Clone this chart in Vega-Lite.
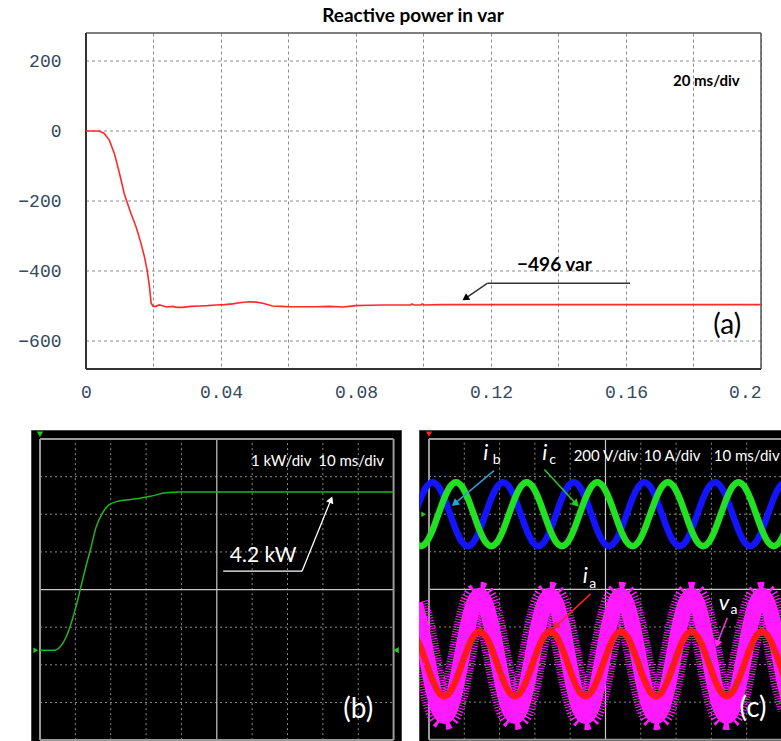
{
  "$schema": "https://vega.github.io/schema/vega-lite/v6.json",
  "padding": {"left": 17, "top": 7, "right": 0, "bottom": 0},
  "background": "white",
  "config": {"view": {"stroke": null}},
  "spacing": 21,
  "vconcat": [
    {
      "width": 730,
      "height": 336,
      "title": {"text": "Reactive power in var", "font": "Lato", "fontSize": 19, "fontWeight": "bold", "color": "#000000", "dx": 17, "offset": 6},
      "encoding": {
        "x": {
          "field": "t", "type": "quantitative",
          "scale": {"domain": [-0.016296, 0.2], "nice": false, "zero": false},
          "axis": {
            "title": null,
            "values": [0, 0.02, 0.04, 0.06, 0.08, 0.1, 0.12, 0.14, 0.16, 0.18, 0.2],
            "format": "~g",
            "labelExpr": "(abs(round(datum.value*100)) % 4 == 0) ? datum.label : ''",
            "grid": true, "gridDash": [3, 3], "gridColor": "#8c8c8c", "gridWidth": 1,
            "ticks": false, "tickSize": 0, "domain": false,
            "labelFont": "Liberation Mono", "labelFontSize": 18, "labelColor": "#34495e",
            "labelPadding": 14, "labelBaseline": "top", "labelFlush": false,
            "labelAlign": {"condition": {"test": "datum.value > 0.19", "value": "right"}, "value": "center"},
            "minExtent": 39, "maxExtent": 39
          }
        },
        "y": {
          "field": "q", "type": "quantitative",
          "scale": {"domain": [-680, 280], "nice": false, "zero": false},
          "axis": {
            "title": null,
            "values": [-600, -400, -200, 0, 200],
            "offset": -55,
            "grid": false, "ticks": false, "tickSize": 0, "domain": false,
            "labelFont": "Liberation Mono", "labelFontSize": 18, "labelColor": "#34495e",
            "labelPadding": 25, "labelBaseline": "middle"
          }
        }
      },
      "layer": [
        {
          "data": {"values": [
            {"t": 0, "t2": 0.2, "q": -600, "q2": -600},
            {"t": 0, "t2": 0.2, "q": -400, "q2": -400},
            {"t": 0, "t2": 0.2, "q": -200, "q2": -200},
            {"t": 0, "t2": 0.2, "q": 0, "q2": 0},
            {"t": 0, "t2": 0.2, "q": 200, "q2": 200}
          ]},
          "mark": {"type": "rule", "color": "#8c8c8c", "strokeWidth": 1, "strokeDash": [3, 3]},
          "encoding": {"x2": {"field": "t2"}, "y2": {"field": "q2"}}
        },
        {
          "data": {"values": [
            {"t": 0, "t2": 0.2, "q": 280, "q2": 280},
            {"t": 0.2, "t2": 0.2, "q": -680, "q2": 280}
          ]},
          "mark": {"type": "rule", "color": "#555555", "strokeWidth": 1.5},
          "encoding": {"x2": {"field": "t2"}, "y2": {"field": "q2"}}
        },
        {
          "data": {"values": [
            {"t": 0, "t2": 0, "q": -680, "q2": 280},
            {"t": 0, "t2": 0.2, "q": -680, "q2": -680}
          ]},
          "mark": {"type": "rule", "color": "#333333", "strokeWidth": 2},
          "encoding": {"x2": {"field": "t2"}, "y2": {"field": "q2"}}
        },
        {
          "data": {"values": [
            {"t": 0, "q": 0}, {"t": 0.002, "q": 0}, {"t": 0.0039, "q": 0}, {"t": 0.0054, "q": -7},
            {"t": 0.0069, "q": -26}, {"t": 0.0084, "q": -64}, {"t": 0.0099, "q": -120}, {"t": 0.0113, "q": -178},
            {"t": 0.0123, "q": -207}, {"t": 0.0133, "q": -235}, {"t": 0.0148, "q": -273}, {"t": 0.0163, "q": -321},
            {"t": 0.0173, "q": -359}, {"t": 0.0181, "q": -397}, {"t": 0.0188, "q": -444}, {"t": 0.0193, "q": -492},
            {"t": 0.0199, "q": -501}, {"t": 0.0207, "q": -501}, {"t": 0.0217, "q": -497}, {"t": 0.0227, "q": -499},
            {"t": 0.024, "q": -503}, {"t": 0.0257, "q": -501}, {"t": 0.027, "q": -504}, {"t": 0.0286, "q": -504},
            {"t": 0.031, "q": -501}, {"t": 0.0336, "q": -500}, {"t": 0.036, "q": -499}, {"t": 0.0385, "q": -497},
            {"t": 0.041, "q": -496}, {"t": 0.0434, "q": -494}, {"t": 0.046, "q": -490}, {"t": 0.0484, "q": -488},
            {"t": 0.0505, "q": -489}, {"t": 0.0524, "q": -492}, {"t": 0.0553, "q": -500}, {"t": 0.058, "q": -501},
            {"t": 0.0602, "q": -502}, {"t": 0.065, "q": -502}, {"t": 0.0681, "q": -502}, {"t": 0.072, "q": -501},
            {"t": 0.076, "q": -503}, {"t": 0.078, "q": -501}, {"t": 0.08, "q": -499}, {"t": 0.084, "q": -498},
            {"t": 0.0879, "q": -497}, {"t": 0.092, "q": -497}, {"t": 0.0962, "q": -497}, {"t": 0.0966, "q": -494},
            {"t": 0.0972, "q": -497}, {"t": 0.0992, "q": -497}, {"t": 0.0996, "q": -494}, {"t": 0.1, "q": -497},
            {"t": 0.105, "q": -496}, {"t": 0.2, "q": -496}
          ]},
          "mark": {"type": "line", "color": "#ff2a2a", "strokeWidth": 1.6}
        },
        {
          "data": {"values": [{"t": 0.1838, "q": 144, "label": "20 ms/div"}]},
          "mark": {"type": "text", "font": "Lato", "fontSize": 15, "fontWeight": "bold", "color": "#000000", "align": "center", "baseline": "middle"},
          "encoding": {"text": {"field": "label"}}
        },
        {
          "data": {"values": [{"t": 0.1388, "q": -382.6, "label": "−496 var"}]},
          "mark": {"type": "text", "font": "Lato", "fontSize": 19, "fontWeight": "bold", "color": "#000000", "align": "center", "baseline": "middle"},
          "encoding": {"text": {"field": "label"}}
        },
        {
          "data": {"values": [
            {"t": 0.119, "q": -434.8, "t2": 0.1612, "q2": -434.8},
            {"t": 0.119, "q": -434.8, "t2": 0.1124, "q2": -478}
          ]},
          "mark": {"type": "rule", "color": "#333333", "strokeWidth": 1.5},
          "encoding": {"x2": {"field": "t2"}, "y2": {"field": "q2"}}
        },
        {
          "data": {"values": [{"t": 0.1124, "q": -478}]},
          "mark": {"type": "point", "shape": "triangle-up", "filled": true, "color": "#000000", "opacity": 1, "size": 60, "angle": 236}
        },
        {
          "data": {"values": [{"t": 0.19, "q": -558, "label": "(a)"}]},
          "mark": {"type": "text", "font": "Lato", "fontSize": 28, "color": "#000000", "align": "center", "baseline": "middle"},
          "encoding": {"text": {"field": "label"}}
        }
      ]
    },
    {
      "spacing": 16,
      "hconcat": [
        {
          "width": 370,
          "height": 312,
          "view": {"fill": "#000000", "stroke": "#444444"},
          "encoding": {
            "x": {"field": "x", "type": "quantitative", "scale": {"domain": [-2.55, 102.1], "nice": false, "zero": false}, "axis": null},
            "y": {"field": "y", "type": "quantitative", "scale": {"domain": [-2.44, 5.85], "nice": false, "zero": false}, "axis": null}
          },
          "layer": [
            {
              "data": {"values": [
                {"x": 10, "x2": 10, "y": -2.39, "y2": 5.61}, {"x": 20, "x2": 20, "y": -2.39, "y2": 5.61},
                {"x": 30, "x2": 30, "y": -2.39, "y2": 5.61}, {"x": 40, "x2": 40, "y": -2.39, "y2": 5.61},
                {"x": 60, "x2": 60, "y": -2.39, "y2": 5.61}, {"x": 70, "x2": 70, "y": -2.39, "y2": 5.61},
                {"x": 80, "x2": 80, "y": -2.39, "y2": 5.61}, {"x": 90, "x2": 90, "y": -2.39, "y2": 5.61},
                {"x": 0, "x2": 100, "y": -1.39, "y2": -1.39}, {"x": 0, "x2": 100, "y": -0.39, "y2": -0.39},
                {"x": 0, "x2": 100, "y": 0.61, "y2": 0.61}, {"x": 0, "x2": 100, "y": 2.61, "y2": 2.61},
                {"x": 0, "x2": 100, "y": 3.61, "y2": 3.61}, {"x": 0, "x2": 100, "y": 4.61, "y2": 4.61}
              ]},
              "mark": {"type": "rule", "color": "#8a8a8a", "strokeWidth": 1, "strokeDash": [2, 3]},
              "encoding": {"x2": {"field": "x2"}, "y2": {"field": "y2"}}
            },
            {
              "data": {"values": [
                {"x": 50, "x2": 50, "y": -2.39, "y2": 5.61},
                {"x": 0, "x2": 100, "y": 1.61, "y2": 1.61}
              ]},
              "mark": {"type": "rule", "color": "#c8c8c8", "strokeWidth": 1.2},
              "encoding": {"x2": {"field": "x2"}, "y2": {"field": "y2"}}
            },
            {
              "data": {"values": [
                {"x": 0, "x2": 0, "y": -2.39, "y2": 5.61},
                {"x": 100, "x2": 100, "y": -2.39, "y2": 5.61},
                {"x": 0, "x2": 100, "y": 5.61, "y2": 5.61},
                {"x": 0, "x2": 100, "y": -2.39, "y2": -2.39}
              ]},
              "mark": {"type": "rule", "color": "#9a9a9a", "strokeWidth": 2},
              "encoding": {"x2": {"field": "x2"}, "y2": {"field": "y2"}}
            },
            {
              "data": {"values": [
                {"x": 0, "y": 0}, {"x": 4.0, "y": 0}, {"x": 5.9, "y": 0.11}, {"x": 7.3, "y": 0.33},
                {"x": 8.7, "y": 0.68}, {"x": 10.1, "y": 1.13}, {"x": 11.5, "y": 1.66}, {"x": 12.9, "y": 2.19},
                {"x": 14.4, "y": 2.72}, {"x": 15.8, "y": 3.25}, {"x": 17.7, "y": 3.65}, {"x": 19.5, "y": 3.86},
                {"x": 21.4, "y": 3.94}, {"x": 24.3, "y": 3.99}, {"x": 28.0, "y": 4.03}, {"x": 31.8, "y": 4.10},
                {"x": 35.6, "y": 4.18}, {"x": 39.4, "y": 4.2}, {"x": 100, "y": 4.2}
              ]},
              "mark": {"type": "line", "color": "#22b522", "strokeWidth": 1.5, "interpolate": "monotone"}
            },
            {
              "data": {"values": [
                {"x": 68.2, "y": 5.03, "label": "1 kW/div"},
                {"x": 88.0, "y": 5.03, "label": "10 ms/div"}
              ]},
              "mark": {"type": "text", "font": "Lato", "fontSize": 15, "color": "#ffffff", "align": "center", "baseline": "middle"},
              "encoding": {"text": {"field": "label"}}
            },
            {
              "data": {"values": [{"x": 63.1, "y": 2.5, "label": "4.2 kW"}]},
              "mark": {"type": "text", "font": "Lato", "fontSize": 21, "color": "#ffffff", "align": "center", "baseline": "middle"},
              "encoding": {"text": {"field": "label"}}
            },
            {
              "data": {"values": [
                {"x": 51.8, "x2": 74.1, "y": 2.1, "y2": 2.1},
                {"x": 74.1, "x2": 82.3, "y": 2.1, "y2": 4.0}
              ]},
              "mark": {"type": "rule", "color": "#ffffff", "strokeWidth": 1.3},
              "encoding": {"x2": {"field": "x2"}, "y2": {"field": "y2"}}
            },
            {
              "data": {"values": [{"x": 82.3, "y": 4.0}]},
              "mark": {"type": "point", "shape": "triangle-up", "filled": true, "color": "#ffffff", "opacity": 1, "size": 60, "angle": 22}
            },
            {
              "data": {"values": [{"x": 90.0, "y": -1.58, "label": "(b)"}]},
              "mark": {"type": "text", "font": "Lato", "fontSize": 28, "color": "#ffffff", "align": "center", "baseline": "middle"},
              "encoding": {"text": {"field": "label"}}
            },
            {
              "data": {"values": [{"x": 0, "y": 5.74}]},
              "mark": {"type": "point", "shape": "triangle-down", "filled": true, "color": "#22cc22", "opacity": 1, "size": 40}
            },
            {
              "data": {"values": [{"x": -1.2, "y": 0}]},
              "mark": {"type": "point", "shape": "triangle-right", "filled": true, "color": "#22cc22", "opacity": 1, "size": 30}
            },
            {
              "data": {"values": [{"x": 100.7, "y": 0}]},
              "mark": {"type": "point", "shape": "triangle-left", "filled": true, "color": "#22cc22", "opacity": 1, "size": 40}
            }
          ]
        },
        {
          "width": 363,
          "height": 312,
          "view": {"fill": "#000000", "stroke": "#444444"},
          "encoding": {
            "x": {"field": "t", "type": "quantitative", "scale": {"domain": [-2.83, 100], "nice": false, "zero": false}, "axis": null},
            "y": {"field": "y", "type": "quantitative", "scale": {"domain": [-4.06, 4.24], "nice": false, "zero": false}, "axis": null}
          },
          "layer": [
            {
              "data": {"values": [
                {"t": 10, "t2": 10, "y": -4, "y2": 4}, {"t": 20, "t2": 20, "y": -4, "y2": 4},
                {"t": 30, "t2": 30, "y": -4, "y2": 4}, {"t": 40, "t2": 40, "y": -4, "y2": 4},
                {"t": 60, "t2": 60, "y": -4, "y2": 4}, {"t": 70, "t2": 70, "y": -4, "y2": 4},
                {"t": 80, "t2": 80, "y": -4, "y2": 4}, {"t": 90, "t2": 90, "y": -4, "y2": 4},
                {"t": 0, "t2": 100, "y": -3, "y2": -3}, {"t": 0, "t2": 100, "y": -2, "y2": -2},
                {"t": 0, "t2": 100, "y": -1, "y2": -1}, {"t": 0, "t2": 100, "y": 1, "y2": 1},
                {"t": 0, "t2": 100, "y": 2, "y2": 2}, {"t": 0, "t2": 100, "y": 3, "y2": 3}
              ]},
              "mark": {"type": "rule", "color": "#8a8a8a", "strokeWidth": 1, "strokeDash": [2, 3]},
              "encoding": {"x2": {"field": "t2"}, "y2": {"field": "y2"}}
            },
            {
              "data": {"values": [
                {"t": 50, "t2": 50, "y": -4, "y2": 4},
                {"t": 0, "t2": 100, "y": 0, "y2": 0}
              ]},
              "mark": {"type": "rule", "color": "#c8c8c8", "strokeWidth": 1.2},
              "encoding": {"x2": {"field": "t2"}, "y2": {"field": "y2"}}
            },
            {
              "data": {"values": [
                {"t": 0, "t2": 0, "y": -4, "y2": 4},
                {"t": 0, "t2": 100, "y": 4, "y2": 4},
                {"t": 0, "t2": 100, "y": -4, "y2": -4}
              ]},
              "mark": {"type": "rule", "color": "#9a9a9a", "strokeWidth": 2},
              "encoding": {"x2": {"field": "t2"}, "y2": {"field": "y2"}}
            },
            {
              "data": {"name": "waves"},
              "mark": {"type": "line", "color": "#1414ff", "strokeWidth": 6.5, "interpolate": "monotone", "clip": true},
              "encoding": {"y": {"field": "ib", "type": "quantitative"}}
            },
            {
              "data": {"name": "waves"},
              "mark": {"type": "line", "color": "#22e022", "strokeWidth": 6.5, "interpolate": "monotone", "clip": true},
              "encoding": {"y": {"field": "ic", "type": "quantitative"}}
            },
            {
              "data": {"name": "waves"},
              "mark": {"type": "line", "color": "#ff1aff", "strokeWidth": 28, "strokeDash": [1, 1.5], "interpolate": "monotone", "clip": true},
              "encoding": {"y": {"field": "va", "type": "quantitative"}}
            },
            {
              "data": {"name": "waves"},
              "mark": {"type": "line", "color": "#ff1aff", "strokeWidth": 16, "interpolate": "monotone", "clip": true},
              "encoding": {"y": {"field": "va", "type": "quantitative"}}
            },
            {
              "data": {"name": "waves"},
              "mark": {"type": "line", "color": "#ff1a1a", "strokeWidth": 6.5, "interpolate": "monotone", "clip": true},
              "encoding": {"y": {"field": "ia", "type": "quantitative"}}
            },
            {
              "data": {"values": [
                {"t": 50.1, "y": 3.56, "label": "200 V/div"},
                {"t": 68.9, "y": 3.56, "label": "10 A/div"},
                {"t": 90.0, "y": 3.56, "label": "10 ms/div"}
              ]},
              "mark": {"type": "text", "font": "Lato", "fontSize": 15, "color": "#ffffff", "align": "center", "baseline": "middle"},
              "encoding": {"text": {"field": "label"}}
            },
            {
              "data": {"values": [
                {"t": 16.1, "y": 3.63, "label": "i"},
                {"t": 32.8, "y": 3.63, "label": "i"},
                {"t": 44.3, "y": 0.35, "label": "i"},
                {"t": 83.6, "y": -0.36, "label": "v"}
              ]},
              "mark": {"type": "text", "font": "Lato", "fontSize": 22, "fontStyle": "italic", "color": "#ffffff", "align": "center", "baseline": "middle"},
              "encoding": {"text": {"field": "label"}}
            },
            {
              "data": {"values": [
                {"t": 19.2, "y": 3.45, "label": "b"},
                {"t": 35.0, "y": 3.45, "label": "c"},
                {"t": 46.4, "y": 0.13, "label": "a"},
                {"t": 86.4, "y": -0.55, "label": "a"}
              ]},
              "mark": {"type": "text", "font": "Lato", "fontSize": 14, "color": "#ffffff", "align": "center", "baseline": "middle"},
              "encoding": {"text": {"field": "label"}}
            },
            {
              "data": {"values": [{"t": 18.4, "t2": 7.28, "y": 3.16, "y2": 2.28}]},
              "mark": {"type": "rule", "color": "#2aa0d8", "strokeWidth": 1.5},
              "encoding": {"x2": {"field": "t2"}, "y2": {"field": "y2"}}
            },
            {
              "data": {"values": [{"t": 7.28, "y": 2.28}]},
              "mark": {"type": "point", "shape": "triangle-up", "filled": true, "color": "#2aa0d8", "opacity": 1, "size": 70, "angle": 230}
            },
            {
              "data": {"values": [{"t": 32.7, "t2": 41.7, "y": 3.19, "y2": 2.27}]},
              "mark": {"type": "rule", "color": "#22cc22", "strokeWidth": 1.5},
              "encoding": {"x2": {"field": "t2"}, "y2": {"field": "y2"}}
            },
            {
              "data": {"values": [{"t": 41.7, "y": 2.27}]},
              "mark": {"type": "point", "shape": "triangle-up", "filled": true, "color": "#22cc22", "opacity": 1, "size": 70, "angle": 136}
            },
            {
              "data": {"values": [{"t": 45.8, "t2": 35.8, "y": -0.12, "y2": -0.99}]},
              "mark": {"type": "rule", "color": "#ff2020", "strokeWidth": 1.5},
              "encoding": {"x2": {"field": "t2"}, "y2": {"field": "y2"}}
            },
            {
              "data": {"values": [{"t": 35.8, "y": -0.99}]},
              "mark": {"type": "point", "shape": "triangle-up", "filled": true, "color": "#ff2020", "opacity": 1, "size": 70, "angle": 227}
            },
            {
              "data": {"values": [{"t": 84.5, "t2": 81.6, "y": -0.755, "y2": -1.45}]},
              "mark": {"type": "rule", "color": "#ff33dd", "strokeWidth": 1.5},
              "encoding": {"x2": {"field": "t2"}, "y2": {"field": "y2"}}
            },
            {
              "data": {"values": [{"t": 81.6, "y": -1.45}]},
              "mark": {"type": "point", "shape": "triangle-up", "filled": true, "color": "#ff33dd", "opacity": 1, "size": 70, "angle": 201}
            },
            {
              "data": {"values": [{"t": 91.8, "y": -3.19, "label": "(c)"}]},
              "mark": {"type": "text", "font": "Lato", "fontSize": 28, "color": "#ffffff", "align": "center", "baseline": "middle"},
              "encoding": {"text": {"field": "label"}}
            },
            {
              "data": {"values": [{"t": 0, "y": 4.13}]},
              "mark": {"type": "point", "shape": "triangle-down", "filled": true, "color": "#ff2020", "opacity": 1, "size": 40}
            },
            {
              "data": {"values": [{"t": -1.5, "y": 2.0}]},
              "mark": {"type": "point", "shape": "triangle-right", "filled": true, "color": "#22cc22", "opacity": 1, "size": 30}
            },
            {
              "data": {"values": [{"t": -1.5, "y": -1.99}]},
              "mark": {"type": "point", "shape": "triangle-right", "filled": true, "color": "#ff1aff", "opacity": 1, "size": 30}
            }
          ]
        }
      ]
    }
  ],
  "datasets": {
    "waves": [
      {"t": -4, "ib": 2, "ic": 1.264, "ia": -1.235, "va": -0.384},
      {"t": -2.333, "ib": 2.425, "ic": 1.15, "ia": -1.55, "va": -0.97},
      {"t": -0.667, "ib": 2.736, "ic": 1.264, "ia": -1.98, "va": -1.77},
      {"t": 1, "ib": 2.85, "ic": 1.575, "ia": -2.41, "va": -2.57},
      {"t": 2.667, "ib": 2.736, "ic": 2, "ia": -2.725, "va": -3.156},
      {"t": 4.333, "ib": 2.425, "ic": 2.425, "ia": -2.84, "va": -3.37},
      {"t": 6, "ib": 2, "ic": 2.736, "ia": -2.725, "va": -3.156},
      {"t": 7.667, "ib": 1.575, "ic": 2.85, "ia": -2.41, "va": -2.57},
      {"t": 9.333, "ib": 1.264, "ic": 2.736, "ia": -1.98, "va": -1.77},
      {"t": 11, "ib": 1.15, "ic": 2.425, "ia": -1.55, "va": -0.97},
      {"t": 12.667, "ib": 1.264, "ic": 2, "ia": -1.235, "va": -0.384},
      {"t": 14.333, "ib": 1.575, "ic": 1.575, "ia": -1.12, "va": -0.17},
      {"t": 16, "ib": 2, "ic": 1.264, "ia": -1.235, "va": -0.384},
      {"t": 17.667, "ib": 2.425, "ic": 1.15, "ia": -1.55, "va": -0.97},
      {"t": 19.333, "ib": 2.736, "ic": 1.264, "ia": -1.98, "va": -1.77},
      {"t": 21, "ib": 2.85, "ic": 1.575, "ia": -2.41, "va": -2.57},
      {"t": 22.667, "ib": 2.736, "ic": 2, "ia": -2.725, "va": -3.156},
      {"t": 24.333, "ib": 2.425, "ic": 2.425, "ia": -2.84, "va": -3.37},
      {"t": 26, "ib": 2, "ic": 2.736, "ia": -2.725, "va": -3.156},
      {"t": 27.667, "ib": 1.575, "ic": 2.85, "ia": -2.41, "va": -2.57},
      {"t": 29.333, "ib": 1.264, "ic": 2.736, "ia": -1.98, "va": -1.77},
      {"t": 31, "ib": 1.15, "ic": 2.425, "ia": -1.55, "va": -0.97},
      {"t": 32.667, "ib": 1.264, "ic": 2, "ia": -1.235, "va": -0.384},
      {"t": 34.333, "ib": 1.575, "ic": 1.575, "ia": -1.12, "va": -0.17},
      {"t": 36, "ib": 2, "ic": 1.264, "ia": -1.235, "va": -0.384},
      {"t": 37.667, "ib": 2.425, "ic": 1.15, "ia": -1.55, "va": -0.97},
      {"t": 39.333, "ib": 2.736, "ic": 1.264, "ia": -1.98, "va": -1.77},
      {"t": 41, "ib": 2.85, "ic": 1.575, "ia": -2.41, "va": -2.57},
      {"t": 42.667, "ib": 2.736, "ic": 2, "ia": -2.725, "va": -3.156},
      {"t": 44.333, "ib": 2.425, "ic": 2.425, "ia": -2.84, "va": -3.37},
      {"t": 46, "ib": 2, "ic": 2.736, "ia": -2.725, "va": -3.156},
      {"t": 47.667, "ib": 1.575, "ic": 2.85, "ia": -2.41, "va": -2.57},
      {"t": 49.333, "ib": 1.264, "ic": 2.736, "ia": -1.98, "va": -1.77},
      {"t": 51, "ib": 1.15, "ic": 2.425, "ia": -1.55, "va": -0.97},
      {"t": 52.667, "ib": 1.264, "ic": 2, "ia": -1.235, "va": -0.384},
      {"t": 54.333, "ib": 1.575, "ic": 1.575, "ia": -1.12, "va": -0.17},
      {"t": 56, "ib": 2, "ic": 1.264, "ia": -1.235, "va": -0.384},
      {"t": 57.667, "ib": 2.425, "ic": 1.15, "ia": -1.55, "va": -0.97},
      {"t": 59.333, "ib": 2.736, "ic": 1.264, "ia": -1.98, "va": -1.77},
      {"t": 61, "ib": 2.85, "ic": 1.575, "ia": -2.41, "va": -2.57},
      {"t": 62.667, "ib": 2.736, "ic": 2, "ia": -2.725, "va": -3.156},
      {"t": 64.333, "ib": 2.425, "ic": 2.425, "ia": -2.84, "va": -3.37},
      {"t": 66, "ib": 2, "ic": 2.736, "ia": -2.725, "va": -3.156},
      {"t": 67.667, "ib": 1.575, "ic": 2.85, "ia": -2.41, "va": -2.57},
      {"t": 69.333, "ib": 1.264, "ic": 2.736, "ia": -1.98, "va": -1.77},
      {"t": 71, "ib": 1.15, "ic": 2.425, "ia": -1.55, "va": -0.97},
      {"t": 72.667, "ib": 1.264, "ic": 2, "ia": -1.235, "va": -0.384},
      {"t": 74.333, "ib": 1.575, "ic": 1.575, "ia": -1.12, "va": -0.17},
      {"t": 76, "ib": 2, "ic": 1.264, "ia": -1.235, "va": -0.384},
      {"t": 77.667, "ib": 2.425, "ic": 1.15, "ia": -1.55, "va": -0.97},
      {"t": 79.333, "ib": 2.736, "ic": 1.264, "ia": -1.98, "va": -1.77},
      {"t": 81, "ib": 2.85, "ic": 1.575, "ia": -2.41, "va": -2.57},
      {"t": 82.667, "ib": 2.736, "ic": 2, "ia": -2.725, "va": -3.156},
      {"t": 84.333, "ib": 2.425, "ic": 2.425, "ia": -2.84, "va": -3.37},
      {"t": 86, "ib": 2, "ic": 2.736, "ia": -2.725, "va": -3.156},
      {"t": 87.667, "ib": 1.575, "ic": 2.85, "ia": -2.41, "va": -2.57},
      {"t": 89.333, "ib": 1.264, "ic": 2.736, "ia": -1.98, "va": -1.77},
      {"t": 91, "ib": 1.15, "ic": 2.425, "ia": -1.55, "va": -0.97},
      {"t": 92.667, "ib": 1.264, "ic": 2, "ia": -1.235, "va": -0.384},
      {"t": 94.333, "ib": 1.575, "ic": 1.575, "ia": -1.12, "va": -0.17},
      {"t": 96, "ib": 2, "ic": 1.264, "ia": -1.235, "va": -0.384},
      {"t": 97.667, "ib": 2.425, "ic": 1.15, "ia": -1.55, "va": -0.97},
      {"t": 99.333, "ib": 2.736, "ic": 1.264, "ia": -1.98, "va": -1.77},
      {"t": 101, "ib": 2.85, "ic": 1.575, "ia": -2.41, "va": -2.57},
      {"t": 102.667, "ib": 2.736, "ic": 2, "ia": -2.725, "va": -3.156}
    ]
  }
}
